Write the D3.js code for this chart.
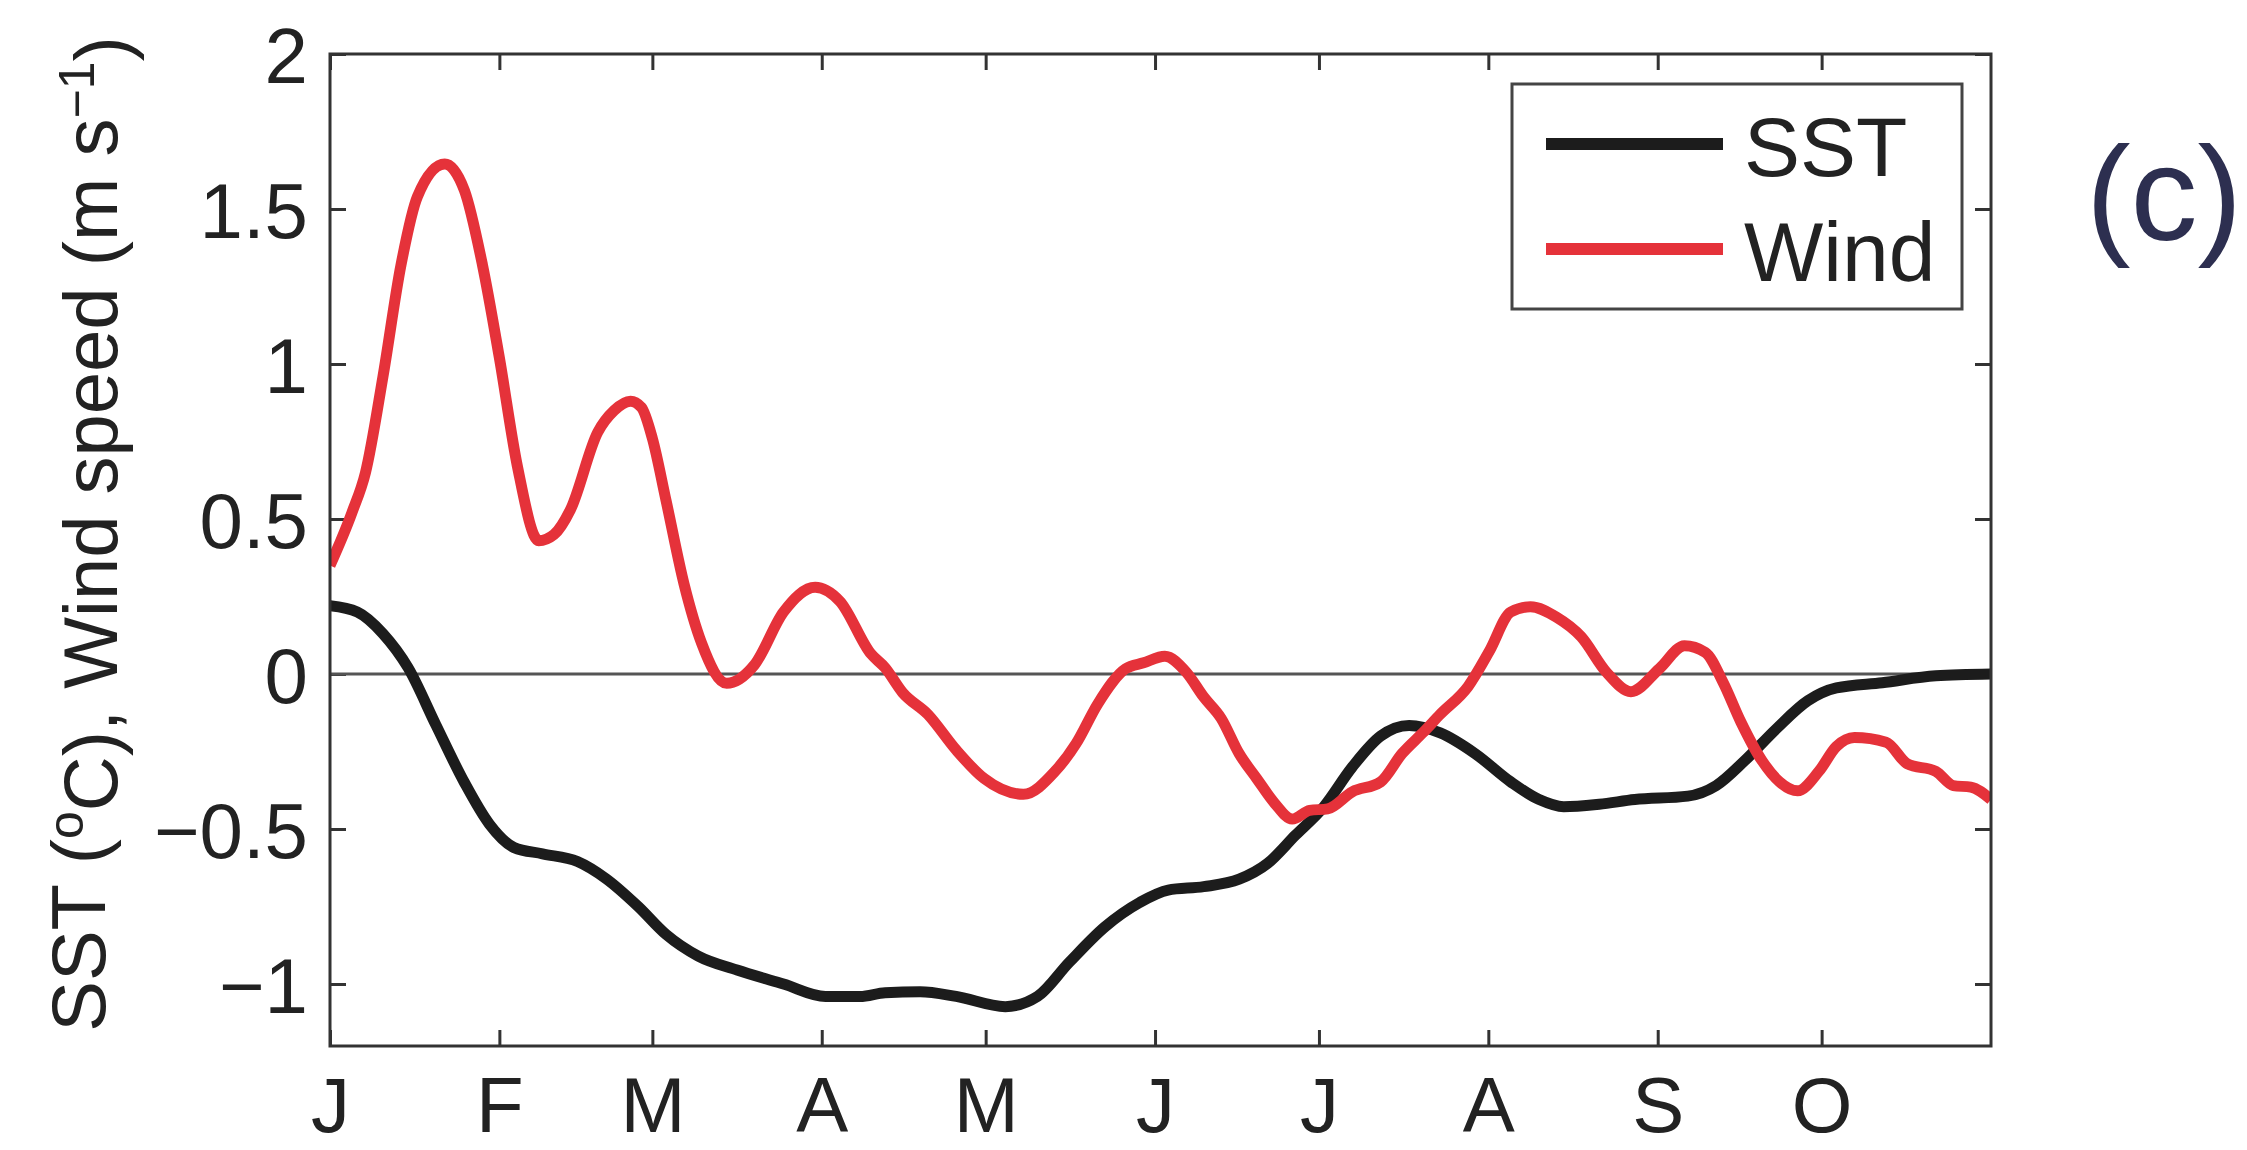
<!DOCTYPE html>
<html>
<head>
<meta charset="utf-8">
<script src="https://cdn.jsdelivr.net/npm/d3@7"></script>
<style>
  body { margin: 0; background: #fff; }
  text { font-family: "Liberation Sans", Arial, sans-serif; fill: #222; }
</style>
</head>
<body>
<div id="my_dataviz"></div>
<script>
// month ticks (day of year, Jan 1 = 0)
var monthDays = [0, 31, 59, 90, 120, 151, 181, 212, 243, 273];
var monthLabels = ["J", "F", "M", "A", "M", "J", "J", "A", "S", "O"];
var yTicks = [-1, -0.5, 0, 0.5, 1, 1.5, 2];

// SST anomaly (deg C)
var sstDays = [0, 5, 9.7, 14.3, 19.4, 24.6, 29.2, 33.7, 38.9, 45.3, 50.5, 56.4, 61.5, 67.4, 74.5, 83, 90.7, 97,
  101.6, 108, 114.6, 123.6, 129.5, 135.3, 141.8, 148.2, 153.4, 159.9, 166.4, 171.6, 176.7, 181.9, 187.1, 192.3,
  197.5, 203.2, 209.6, 216.1, 221.3, 225.8, 232.3, 238.8, 248.5, 253.7, 258.9, 264.7, 270.5, 275.7, 284.1, 293.9, 304];
var sstValues = [0.22, 0.2, 0.13, 0.02, -0.165, -0.35, -0.485, -0.56, -0.58, -0.605, -0.66, -0.75, -0.84, -0.91, -0.955, -1.0, -1.04, -1.04,
  -1.028, -1.025, -1.04, -1.073, -1.04, -0.93, -0.816, -0.737, -0.697, -0.686, -0.662, -0.611, -0.52, -0.428, -0.30, -0.2,
  -0.166, -0.19, -0.257, -0.348, -0.405, -0.428, -0.42, -0.405, -0.394, -0.36, -0.28, -0.177, -0.086, -0.045, -0.028, -0.006, 0.0];

// wind speed anomaly (m/s)
var windDays = [0, 4, 6.5, 9.7, 13, 16, 21, 24.6, 27.9, 31, 34.3, 38.2, 41, 44, 49, 52, 55, 57, 59, 61.5, 64.8, 68, 72.6, 77.7,
  83, 88.8, 93.3, 99, 101.6, 104.8, 109.4, 114.6, 119.7, 126.9, 132.7, 136.6, 140.5, 145.6, 148.9, 152.8, 156.7, 159.9,
  163.1, 166.4, 169.6, 172.9, 176.1, 179.3, 182.6, 187.1, 192.3, 196.2, 200.1, 203.2, 208.3, 212.2, 216.1, 219.7, 224.5,
  229, 233.6, 238.1, 243.3, 247.9, 251.7, 255, 258.2, 262.1, 265.3, 268.6, 272.5, 275.7, 279, 284.8, 288.7, 293.9, 297.1, 300.3, 304];
var windValues = [0.35, 0.52, 0.65, 0.96, 1.32, 1.54, 1.645, 1.56, 1.32, 1.02, 0.67, 0.43, 0.45, 0.53, 0.78, 0.85, 0.88, 0.86, 0.76, 0.56, 0.29, 0.10, -0.03, 0.03,
  0.20, 0.28, 0.235, 0.065, 0.02, -0.06, -0.13, -0.245, -0.337, -0.388, -0.314, -0.223, -0.097, 0.017, 0.036, 0.057, 0.006, -0.074,
  -0.143, -0.257, -0.337, -0.417, -0.468, -0.44, -0.435, -0.38, -0.348, -0.257, -0.188, -0.13, -0.04, 0.074, 0.2, 0.217, 0.183,
  0.12, 0.006, -0.057, 0.017, 0.091, 0.07, -0.028, -0.154, -0.28, -0.348, -0.377, -0.314, -0.234, -0.205, -0.22, -0.29, -0.314, -0.36, -0.365, -0.405];

var sstData = sstDays.map((d, i) => ({day: d, value: sstValues[i]}));
var windData = windDays.map((d, i) => ({day: d, value: windValues[i]}));

var margin = {top: 54, right: 256, bottom: 104, left: 330},
    width = 2247 - margin.left - margin.right,
    height = 1150 - margin.top - margin.bottom;

var svg = d3.select("#my_dataviz")
    .append("svg")
    .attr("width", 2247)
    .attr("height", 1150)
    .append("g")
    .attr("transform", "translate(" + margin.left + "," + margin.top + ")");

var x = d3.scaleLinear().domain([0, 304]).range([0, width]);
var y = d3.scaleLinear().domain([-1.2, 2]).range([height, 0]);

var fmt = v => (v < 0 ? "\u2212" : "") + Math.abs(v);

// axes, ticks pointing inward like matlab
var xAxis = svg.append("g")
    .attr("transform", "translate(0," + height + ")")
    .call(d3.axisBottom(x).tickValues(monthDays).tickSizeInner(-16).tickSizeOuter(0)
        .tickPadding(31).tickFormat((d, i) => monthLabels[i]));
svg.append("g")
    .call(d3.axisTop(x).tickValues(monthDays).tickSizeInner(-16).tickSizeOuter(0).tickFormat(""));
var yAxis = svg.append("g")
    .call(d3.axisLeft(y).tickValues(yTicks).tickSizeInner(-16).tickSizeOuter(0)
        .tickPadding(22).tickFormat(fmt));
svg.append("g")
    .attr("transform", "translate(" + width + ",0)")
    .call(d3.axisRight(y).tickValues(yTicks).tickSizeInner(-16).tickSizeOuter(0).tickFormat(""));

svg.selectAll(".domain").remove();
svg.selectAll(".tick line").attr("stroke", "#333").attr("stroke-width", 3);
svg.selectAll(".tick text").style("font-size", "78px").attr("fill", "#222");
yAxis.selectAll(".tick text").attr("dy", "0.36em");

// zero line
svg.append("line")
    .attr("x1", 0).attr("x2", width)
    .attr("y1", y(0)).attr("y2", y(0))
    .attr("stroke", "#555").attr("stroke-width", 3);

svg.append("clipPath").attr("id", "clip")
    .append("rect").attr("width", width).attr("height", height);

var line = d3.line()
    .x(d => x(d.day))
    .y(d => y(d.value))
    .curve(d3.curveMonotoneX);

svg.append("path")
    .datum(sstData)
    .attr("clip-path", "url(#clip)")
    .attr("fill", "none")
    .attr("stroke", "#1c1c1c")
    .attr("stroke-width", 11)
    .attr("d", line);

svg.append("path")
    .datum(windData)
    .attr("clip-path", "url(#clip)")
    .attr("fill", "none")
    .attr("stroke", "#e5323a")
    .attr("stroke-width", 11)
    .attr("d", line);

// plot box
svg.append("rect")
    .attr("width", width).attr("height", height)
    .attr("fill", "none").attr("stroke", "#333").attr("stroke-width", 3);

// legend
var legend = svg.append("g").attr("transform", "translate(" + (1512 - margin.left) + "," + (84 - margin.top) + ")");
legend.append("rect")
    .attr("width", 450).attr("height", 225)
    .attr("fill", "#fff").attr("stroke", "#444").attr("stroke-width", 3);
[["SST", "#1c1c1c"], ["Wind", "#e5323a"]].forEach((s, i) => {
    legend.append("line")
        .attr("x1", 34).attr("x2", 211)
        .attr("y1", 60 + i * 105).attr("y2", 60 + i * 105)
        .attr("stroke", s[1]).attr("stroke-width", 12);
    legend.append("text")
        .attr("x", 232).attr("y", 92 + i * 105)
        .style("font-size", "84px")
        .text(s[0]);
});

// y axis title
var title = svg.append("text")
    .attr("transform", "translate(" + (105 - margin.left) + "," + (534 - margin.top) + ") rotate(-90)")
    .attr("text-anchor", "middle")
    .style("font-size", "76px");
title.append("tspan").text("SST (");
title.append("tspan").attr("dy", "-0.45em").style("font-size", "50px").text("o");
title.append("tspan").attr("dy", "0.45em").text("C), Wind speed (m s");
title.append("tspan").attr("dy", "-0.45em").style("font-size", "50px").text("\u22121");
title.append("tspan").attr("dy", "0.45em").text(")");

// panel label
svg.append("text")
    .attr("x", 2086 - margin.left)
    .attr("y", 240 - margin.top)
    .style("font-size", "134px")
    .style("fill", "#2d2f50")
    .text("(c)");
</script>
</body>
</html>
